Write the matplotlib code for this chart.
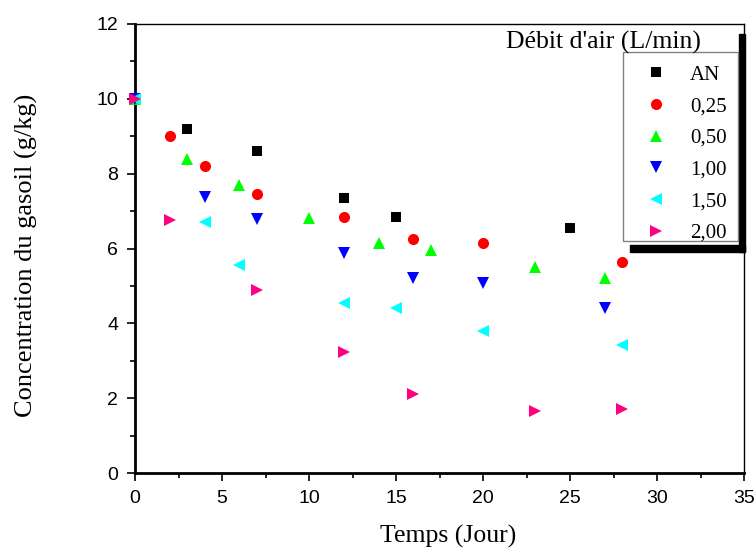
import matplotlib
matplotlib.use('Agg')
import numpy as np
import matplotlib.pyplot as plt
from matplotlib.patches import Rectangle
from matplotlib.ticker import MultipleLocator

# data
t_an = [0, 3, 7, 12, 15, 25]
c_an = [10, 9.2, 8.6, 7.34, 6.84, 6.54]
t_025 = [0, 2, 4, 7, 12, 16, 20, 28]
c_025 = [10, 9.0, 8.2, 7.45, 6.84, 6.25, 6.15, 5.64]
t_050 = [0, 3, 6, 10, 14, 17, 23, 27]
c_050 = [10, 8.4, 7.7, 6.82, 6.15, 5.95, 5.5, 5.22]
t_100 = [0, 4, 7, 12, 16, 20, 27]
c_100 = [10, 7.37, 6.78, 5.87, 5.22, 5.07, 4.42]
t_150 = [0, 4, 6, 12, 15, 20, 28]
c_150 = [10, 6.7, 5.55, 4.55, 4.4, 3.8, 3.43]
t_200 = [0, 2, 7, 12, 16, 23, 28]
c_200 = [10, 6.76, 4.89, 3.24, 2.1, 1.65, 1.7]

labels = ['AN', '0,25', '0,50', '1,00', '1,50', '2,00']
markers = ['s', 'o', '^', 'v', '<', '>']
colors = ['black', 'red', '#00ff00', 'blue', 'cyan', '#ff0080']
sizes = [7, 8, 9, 9, 9, 9]
series = [(t_an, c_an), (t_025, c_025), (t_050, c_050),
          (t_100, c_100), (t_150, c_150), (t_200, c_200)]

serif = ['Liberation Serif', 'DejaVu Serif']
sans = ['Liberation Sans', 'DejaVu Sans']

W, H = 755, 554
fig = plt.figure(figsize=(7.55, 5.54), dpi=100)
ax = fig.add_axes([135/W, 1-473/H, (744-135)/W, (473-24)/H])

handles = []
for (t, c), lab, m, col, s in zip(series, labels, markers, colors, sizes):
    h, = ax.plot(t, c, linestyle='none', marker=m, color=col, markersize=s,
                 markeredgewidth=0, label=lab, clip_on=False, zorder=3)
    handles.append(h)

ax.set_xlim(0, 35)
ax.set_ylim(0, 12)
ax.xaxis.set_major_locator(MultipleLocator(5))
ax.xaxis.set_minor_locator(MultipleLocator(2.5))
ax.yaxis.set_major_locator(MultipleLocator(2))
ax.yaxis.set_minor_locator(MultipleLocator(1))
ax.tick_params(which='major', direction='out', length=6, width=1.2, pad=6)
ax.tick_params(which='minor', direction='out', length=3.5, width=1.2)
for lab in ax.get_xticklabels() + ax.get_yticklabels():
    lab.set_family(sans)
    lab.set_fontsize(14)

ax.spines['left'].set_linewidth(2)
ax.spines['bottom'].set_linewidth(2)
ax.spines['top'].set_linewidth(1)
ax.spines['right'].set_linewidth(1)

ax.set_xlabel('Temps (Jour)', family=serif, fontsize=18.5)
ax.set_ylabel('Concentration du gasoil (g/kg)', family=serif, fontsize=19)
ax.xaxis.set_label_coords((448-135)/(744-135), -(525-473)/(473-24))
ax.yaxis.set_label_coords(-(135-38)/(744-135), (473-255)/(473-24))

# legend frame and shadow bars, drawn inside the axes so the legend sits on top
ax.add_patch(Rectangle((623/W, 1-241/H), 115/W, (241-52)/H, transform=fig.transFigure,
                       facecolor='white', edgecolor='#808080', linewidth=1,
                       zorder=5, clip_on=False))
ax.add_patch(Rectangle((739/W, 1-252/H), 6/W, (252-34)/H, transform=fig.transFigure,
                       color='black', zorder=4, clip_on=False))
ax.add_patch(Rectangle((630/W, 1-252/H), 115/W, 7/H, transform=fig.transFigure,
                       color='black', zorder=4, clip_on=False))

leg = ax.legend(handles=handles, loc='upper left',
                bbox_to_anchor=(635/W, 1-65/H), bbox_transform=fig.transFigure,
                borderaxespad=0, frameon=False, borderpad=0,
                prop={'family': serif, 'size': 15}, labelspacing=0.58,
                handletextpad=0.64, handlelength=2.0)
leg.set_zorder(6)

ax.text(603/W, 1-42/H, "Débit d'air (L/min)", transform=fig.transFigure,
        family=serif, fontsize=18.5, ha='center', va='center', zorder=7)

fig.savefig('out.png', dpi=100)
